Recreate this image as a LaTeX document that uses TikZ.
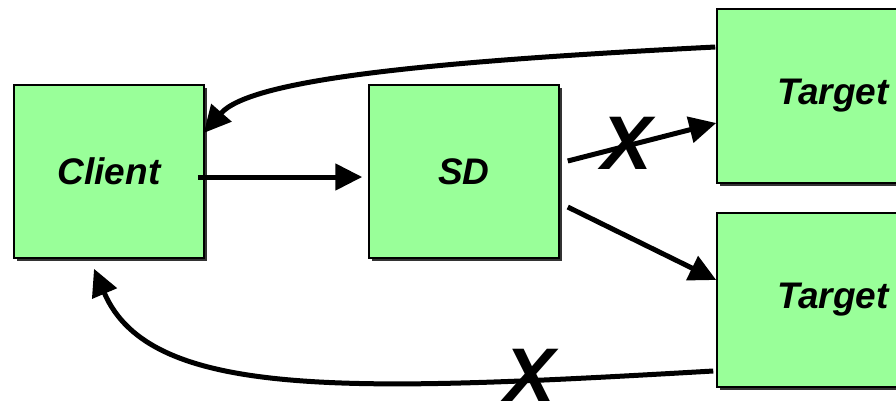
\documentclass[tikz,border=0pt]{standalone}
\usepackage{fontspec}
\setmainfont{Liberation Sans}
\usetikzlibrary{arrows.meta,shadows}
\definecolor{boxgreen}{HTML}{99FF99}
\tikzset{
  box/.style={draw=black, line width=1.5pt, fill=boxgreen, minimum width=190pt, minimum height=173pt, inner sep=0pt,
    drop shadow={shadow xshift=2.5pt, shadow yshift=-2.5pt, fill=black!80, opacity=1},
    font=\fontsize{37}{40}\selectfont\bfseries\itshape},
  conn/.style={line width=5pt, -{Triangle[length=27pt,width=26pt]}},
  xmark/.style={inner sep=0pt, font=\fontsize{76}{80}\selectfont\bfseries\itshape}
}
\begin{document}
\begin{tikzpicture}[x=1pt,y=-1pt]
\useasboundingbox (0,0) rectangle (896,400);
\clip (0,0) rectangle (896,400);
\node[box] (cl) at (109,171.5) {Client};
\node[box] (sd) at (464,171.5) {SD};
\node[box, minimum width=232pt, minimum height=174pt] (tt) at (833,96) {Target};
\node[box, minimum width=232pt, minimum height=174pt] (tb) at (833,300) {Target};
% Client -> SD
\draw[conn] ([shift={(-7pt,-5.5pt)}]cl.east) -- ([shift={(-6pt,-5.5pt)}]sd.west);
% SD -> Targets
\draw[conn] ([shift={(8pt,10.5pt)}]sd.east) -- ([shift={(0pt,-27pt)}]tt.west);
\draw[conn] ([shift={(8pt,-35.5pt)}]sd.east) -- ([shift={(0pt,20pt)}]tb.west);
% Target top -> Client
\draw[conn] ([shift={(-1pt,49pt)}]tt.west) .. controls (420,62) and (250,80) .. ([shift={(-1pt,38.5pt)}]cl.east);
% Target bottom -> Client
\draw[conn] ([shift={(-3pt,-71pt)}]tb.west) .. controls (350,392) and (150,400) .. ([shift={(-15pt,-10pt)}]cl.south);
% X marks
\node[xmark] (x1) at (627,143) {X};
\node[xmark] (x2) at (530,375) {X};
\end{tikzpicture}
\end{document}
